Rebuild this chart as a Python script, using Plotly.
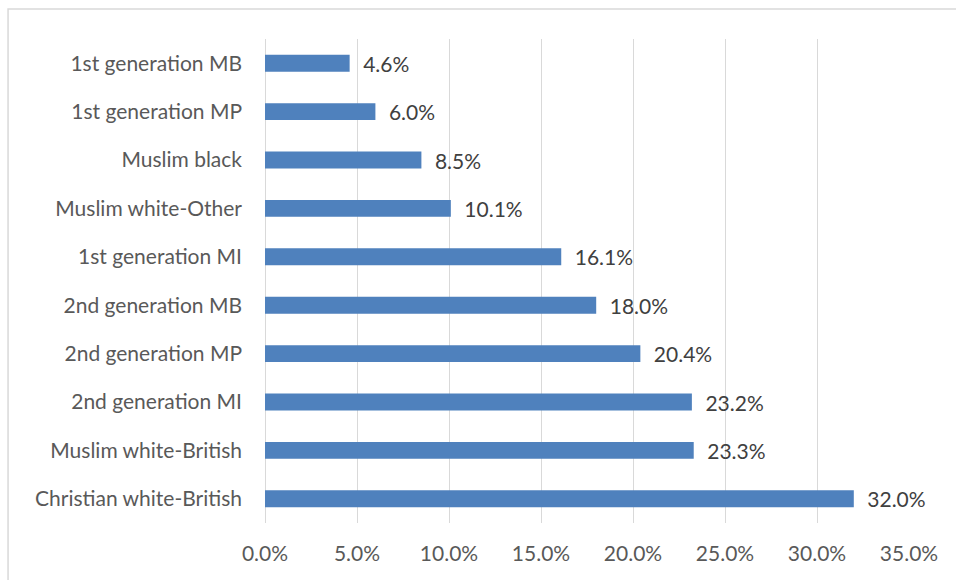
import plotly.graph_objects as go

categories = [
    "Christian white-British",
    "Muslim white-British",
    "2nd generation MI",
    "2nd generation MP",
    "2nd generation MB",
    "1st generation MI",
    "Muslim white-Other",
    "Muslim black",
    "1st generation MP",
    "1st generation MB",
]
values = [0.320, 0.233, 0.232, 0.204, 0.180, 0.161, 0.101, 0.085, 0.060, 0.046]

FONT = "Lato, Open Sans, sans-serif"
FS = 21

fig = go.Figure(
    go.Bar(
        y=categories,
        x=values,
        orientation="h",
        width=0.35,
        marker=dict(color="#4F81BD", line=dict(color="#4F81BD", width=0)),
        text=[f"{v*100:.1f}%" for v in values],
        texttemplate="\u2002%{text}",
        textposition="outside",
        constraintext="none",
        textfont=dict(family=FONT, size=FS, color="#404040"),
        cliponaxis=False,
    )
)

fig.update_layout(
    width=956,
    height=580,
    margin=dict(l=265, r=47, t=39, b=57),
    paper_bgcolor="white",
    plot_bgcolor="white",
    showlegend=False,
    font=dict(family=FONT, size=FS, color="#595959"),
    xaxis=dict(
        range=[0, 0.35],
        dtick=0.05,
        tick0=0,
        tickformat=".1%",
        showgrid=True,
        gridcolor="#D9D9D9",
        gridwidth=1.3,
        zeroline=True,
        zerolinecolor="#D9D9D9",
        zerolinewidth=1.3,
        showline=False,
        ticks="",
        ticklabelstandoff=16,
        tickfont=dict(family=FONT, size=FS, color="#595959"),
    ),
    yaxis=dict(
        showgrid=False,
        zeroline=False,
        showline=False,
        ticks="",
        ticklabelstandoff=22,
        tickfont=dict(family=FONT, size=FS, color="#595959"),
        categoryorder="array",
        categoryarray=categories,
    ),
    shapes=[
        dict(
            type="rect",
            xref="paper",
            yref="paper",
            x0=-0.399,
            x1=1.3,
            y0=-0.3,
            y1=1.062,
            line=dict(color="#D9D9D9", width=1.5),
            fillcolor="rgba(0,0,0,0)",
            layer="below",
        )
    ],
)

fig.write_html(
    "out.html",
    config={"displayModeBar": False},
    post_script="document.body.style.margin='0';document.body.style.overflow='hidden';",
)
